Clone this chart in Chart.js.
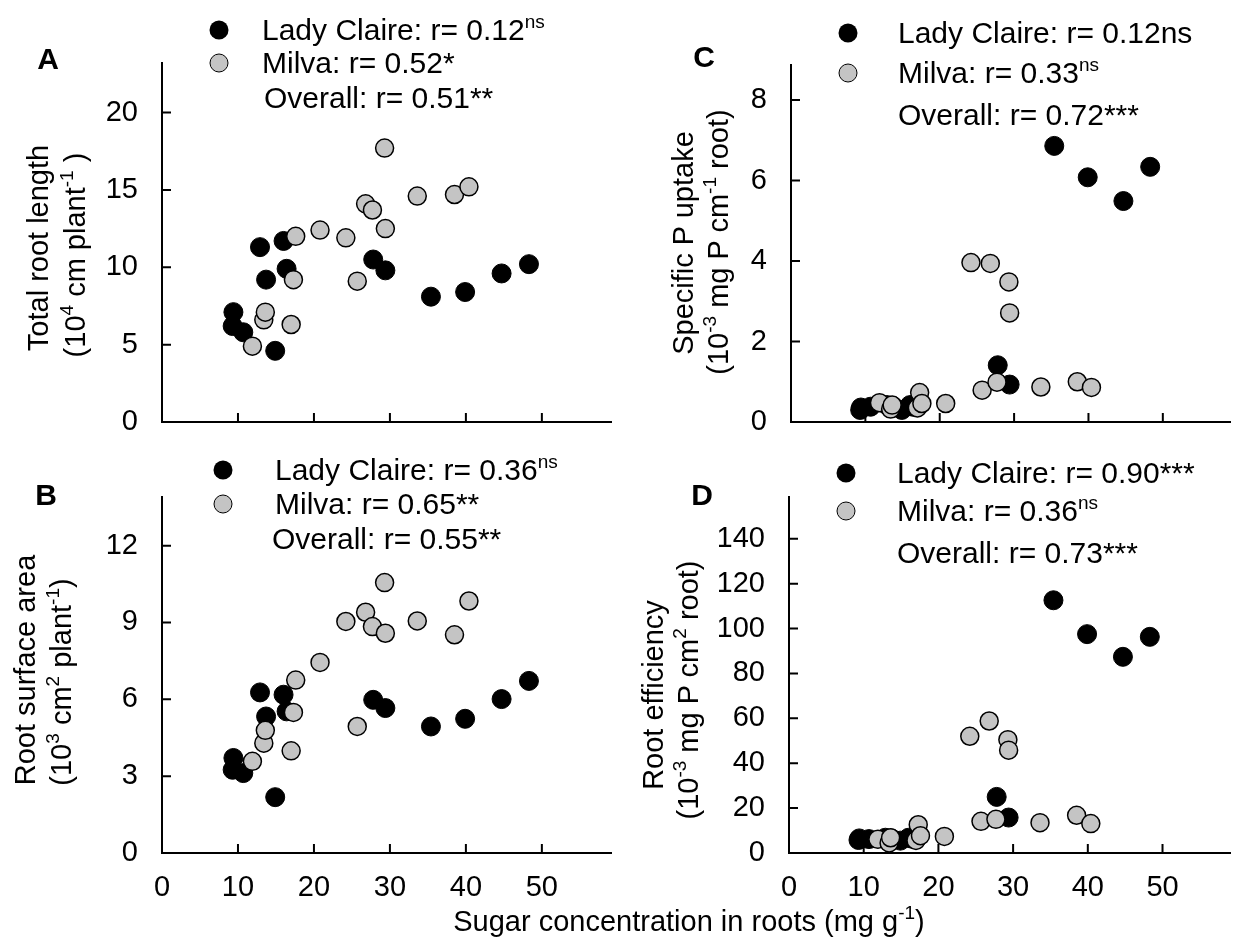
<!DOCTYPE html>
<html>
<head>
<meta charset="utf-8">
<script src="https://cdn.jsdelivr.net/npm/chart.js@4.4.1/dist/chart.umd.min.js"></script>
<style>
body{margin:0;background:#fff;width:1241px;height:947px;position:relative;overflow:hidden;font-family:'Liberation Sans',Arial,sans-serif;color:#000}
canvas{position:absolute;left:0;top:0}
.t{position:absolute;font-size:29px;white-space:nowrap;line-height:34px}
.leg{font-size:30px}
.c{transform:translate(-50%,-50%)}
.rot{transform:translate(-50%,-50%) rotate(-90deg)}
sup{font-size:19px;vertical-align:0;position:relative;top:-12px}
.dot{position:absolute;width:19px;height:19px;border-radius:50%;box-sizing:border-box;transform:translate(-50%,-50%)}
.letter{font-weight:bold;font-size:30px}
</style>
</head>
<body>
<canvas id="cA" width="1241" height="947"></canvas>
<canvas id="cB" width="1241" height="947"></canvas>
<canvas id="cC" width="1241" height="947"></canvas>
<canvas id="cD" width="1241" height="947"></canvas>
<script>
// sugar concentration (x), same plants in every panel
const xLady = [9.3, 9.4, 10.7, 12.9, 13.7, 14.9, 16.0, 16.4, 27.8, 29.4, 35.4, 39.9, 44.7, 48.3];
const xMilva = [11.9, 13.4, 13.6, 17.0, 17.3, 17.6, 20.8, 24.2, 25.7, 26.8, 27.7, 29.3, 29.4, 33.6, 38.5, 40.4];

// A: total root length
const ladyA = [6.2, 7.1, 5.8, 11.3, 9.2, 4.6, 11.7, 9.9, 10.5, 9.8, 8.1, 8.4, 9.6, 10.2];
const milvaA = [4.9, 6.6, 7.1, 6.3, 9.2, 12.0, 12.4, 11.9, 9.1, 14.1, 13.7, 17.7, 12.5, 14.6, 14.7, 15.2];
// B: root surface area
const ladyB = [3.25, 3.71, 3.12, 6.27, 5.33, 2.18, 6.18, 5.53, 5.98, 5.66, 4.94, 5.24, 6.01, 6.72];
const milvaB = [3.58, 4.29, 4.79, 3.99, 5.49, 6.75, 7.44, 9.04, 4.94, 9.40, 8.84, 10.56, 8.58, 9.06, 8.52, 9.84];
// C: specific P uptake
const ladyC = [0.30, 0.36, 0.38, 0.42, 0.40, 0.30, 0.42, 0.38, 1.41, 0.93, 6.86, 6.08, 5.49, 6.34];
const milvaC = [0.48, 0.32, 0.42, 0.35, 0.73, 0.46, 0.46, 3.96, 0.79, 3.94, 0.99, 3.48, 2.71, 0.87, 1.0, 0.86];
// D: root efficiency
const ladyD = [5.8, 6.5, 6.2, 6.8, 6.5, 5.5, 6.8, 6.4, 25.0, 15.8, 112.6, 97.5, 87.4, 96.3];
const milvaD = [6.1, 4.5, 6.8, 5.6, 12.6, 7.7, 7.4, 52.0, 14.1, 58.8, 15.0, 50.5, 45.8, 13.5, 16.8, 13.1];

// axes
const xMax = 59.1;
const xStep = 10;
const yMaxes = [23.2, 13.9, 8.87, 158.6];
const ySteps = [5, 3, 2, 20];

const legendA = ['Lady Claire: r= 0.12<sup>ns</sup>', 'Milva: r= 0.52*', 'Overall: r= 0.51**'];
const legendB = ['Lady Claire: r= 0.36<sup>ns</sup>', 'Milva: r= 0.65**', 'Overall: r= 0.55**'];
const legendC = ['Lady Claire: r= 0.12ns', 'Milva: r= 0.33<sup>ns</sup>', 'Overall: r= 0.72***'];
const legendD = ['Lady Claire: r= 0.90***', 'Milva: r= 0.36<sup>ns</sup>', 'Overall: r= 0.73***'];

const yTitles = [
  ['Total root length', '(10<sup>4</sup> cm plant<sup>-1</sup> )'],
  ['Root surface area', '(10<sup>3</sup> cm<sup>2</sup> plant<sup>-1</sup>)'],
  ['Specific P uptake', '(10<sup>-3</sup> mg P cm<sup>-1</sup> root)'],
  ['Root efficiency', '(10<sup>-3</sup> mg P cm<sup>2</sup> root)']
];
const xTitle = 'Sugar concentration in roots (mg g<sup>-1</sup>)';

const FONT = "'Liberation Sans', Arial, sans-serif";
const YW = 70, XH = 60;

// tick marks point into the plot
const inTicks = {
  id: 'inTicks',
  afterDraw(chart) {
    const {ctx, chartArea: a, scales: {x, y}} = chart;
    ctx.save();
    ctx.strokeStyle = '#000';
    ctx.lineWidth = 2;
    ctx.beginPath();
    x.ticks.forEach(t => {
      if (t.value === 0) return;
      const px = x.getPixelForValue(t.value);
      ctx.moveTo(px, a.bottom);
      ctx.lineTo(px, a.bottom - 9);
    });
    y.ticks.forEach(t => {
      if (t.value === 0) return;
      const py = y.getPixelForValue(t.value);
      ctx.moveTo(a.left, py);
      ctx.lineTo(a.left + 9, py);
    });
    ctx.stroke();
    ctx.restore();
  }
};

function pts(xs, ys) {
  return xs.map((x, i) => ({x: x, y: ys[i]}));
}

function panel(id, box, lady, milva, yMax, yStep, showX) {
  new Chart(document.getElementById(id), {
    type: 'scatter',
    data: {
      datasets: [
        {label: 'Lady Claire', data: pts(xLady, lady), order: 2, clip: false,
         pointRadius: 9.5, pointBackgroundColor: '#000', pointBorderColor: '#000', pointBorderWidth: 1},
        {label: 'Milva', data: pts(xMilva, milva), order: 1, clip: false,
         pointRadius: 9, pointBackgroundColor: '#c4c4c4', pointBorderColor: '#000', pointBorderWidth: 1.5}
      ]
    },
    options: {
      responsive: false,
      animation: false,
      layout: {padding: {left: box.l - YW, right: 1241 - box.r, top: box.t, bottom: 947 - box.b - XH}},
      plugins: {legend: {display: false}, tooltip: {enabled: false}},
      scales: {
        x: {
          type: 'linear', min: 0, max: xMax,
          afterFit: s => { s.height = XH; },
          grid: {display: false},
          border: {display: true, color: '#000', width: 2},
          ticks: {stepSize: xStep, includeBounds: false, autoSkip: false, maxRotation: 0,
                  display: showX, color: '#000', padding: 10, font: {size: 29, family: FONT}}
        },
        y: {
          type: 'linear', min: 0, max: yMax,
          afterFit: s => { s.width = YW; },
          grid: {display: false},
          border: {display: true, color: '#000', width: 2},
          ticks: {stepSize: yStep, includeBounds: false, autoSkip: false,
                  color: '#000', padding: 16, font: {size: 29, family: FONT}}
        }
      }
    },
    plugins: [inTicks]
  });
}

panel('cA', {l: 162, r: 611, t: 63, b: 422}, ladyA, milvaA, yMaxes[0], ySteps[0], false);
panel('cB', {l: 162, r: 611, t: 497, b: 853}, ladyB, milvaB, yMaxes[1], ySteps[1], true);
panel('cC', {l: 791, r: 1240, t: 65, b: 422}, ladyC, milvaC, yMaxes[2], ySteps[2], false);
panel('cD', {l: 789, r: 1238, t: 497, b: 853}, ladyD, milvaD, yMaxes[3], ySteps[3], true);

// text overlays
function txt(html, x, y, cls) {
  const d = document.createElement('div');
  d.className = 't ' + cls;
  d.innerHTML = html;
  d.style.left = x + 'px';
  d.style.top = y + 'px';
  document.body.appendChild(d);
}
function dot(x, y, fill) {
  const d = document.createElement('div');
  d.className = 'dot';
  d.style.left = x + 'px';
  d.style.top = y + 'px';
  d.style.background = fill;
  d.style.border = fill === '#000' ? '0' : '1.5px solid #000';
  document.body.appendChild(d);
}
function legend(lines, dotX, textX, rows) {
  dot(dotX, rows[0], '#000');
  dot(dotX, rows[1], '#c4c4c4');
  lines.forEach((l, i) => {
    const d = document.createElement('div');
    d.className = 't leg';
    d.innerHTML = l;
    d.style.left = textX[i] + 'px';
    d.style.top = (rows[i] - 17) + 'px';
    document.body.appendChild(d);
  });
}

legend(legendA, 219, [262, 262, 264], [30, 63, 98]);
legend(legendB, 223, [275, 275, 272], [470, 504, 539]);
legend(legendC, 848, [898, 898, 898], [33, 73, 115]);
legend(legendD, 846, [897, 897, 897], [473, 511, 553]);

txt('A', 48, 59, 'letter c');
txt('B', 46, 495, 'letter c');
txt('C', 704, 57, 'letter c');
txt('D', 702, 495, 'letter c');

txt(yTitles[0][0], 38, 248, 'rot');
txt(yTitles[0][1], 77, 255, 'rot');
txt(yTitles[1][0], 25, 670, 'rot');
txt(yTitles[1][1], 63, 682, 'rot');
txt(yTitles[2][0], 683, 243, 'rot');
txt(yTitles[2][1], 720, 242, 'rot');
txt(yTitles[3][0], 653, 695, 'rot');
txt(yTitles[3][1], 690, 690, 'rot');

txt(xTitle, 689, 923, 'c');
</script>
</body>
</html>
